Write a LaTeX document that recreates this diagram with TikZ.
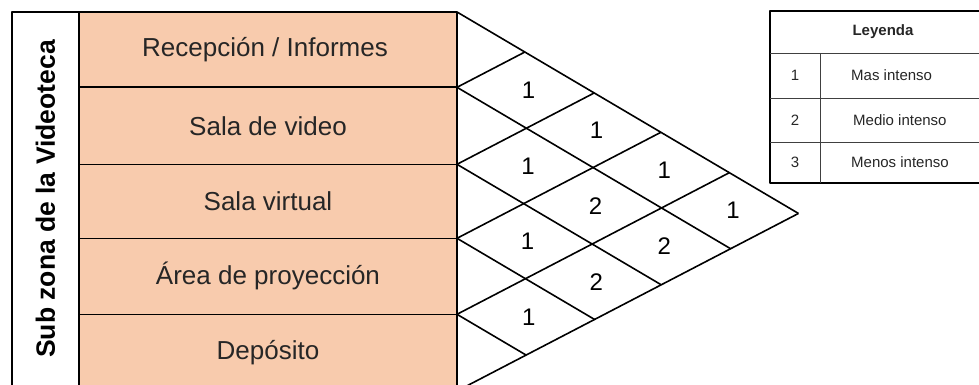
\documentclass[tikz,border=0pt]{standalone}
\usepackage{fontspec}
\setmainfont{Liberation Sans}
\usetikzlibrary{calc}
\definecolor{zonefill}{HTML}{F8CBAD}
\begin{document}
\begin{tikzpicture}[x=1pt,y=-1pt,line join=round,
  gridline/.style={line width=1.6pt,black},
  rowtxt/.style={font=\fontsize{26}{30}\selectfont,text=black!85},
  sidetxt/.style={font=\bfseries\fontsize{26.5}{30}\selectfont,rotate=90},
  cellnum/.style={font=\fontsize{24}{28}\selectfont},
  legtxt/.style={font=\fontsize{15}{17}\selectfont,text=black!85},
  legline/.style={line width=0.9pt,black!75}]
\useasboundingbox (0,0) rectangle (979,385);
\def\Plist{12,87.3,164.3,238.3,314.3,391}
% left block
\fill[zonefill] (79,12) rectangle (457,391);
\draw[gridline] (12,391) -- (12,12) -- (457,12) -- (457,391);
\draw[gridline] (79,12) -- (79,391);
\foreach \k in {1,...,4}{
  \pgfmathsetmacro\yk{{\Plist}[\k]}
  \draw[gridline] (79,\yk) -- (457,\yk);
}
\node[sidetxt] (side) at (45.5,199) {Sub zona de la Videoteca};
\node[rowtxt] (r1) at (265,49.6) {Recepción / Informes};
\node[rowtxt] (r2) at (268,125.8) {Sala de video};
\node[rowtxt] (r3) at (268,201.3) {Sala virtual};
\node[rowtxt] (r4) at (268,276.3) {Área de proyección};
\node[rowtxt] (r5) at (268,352.6) {Depósito};
% triangle vertices
\foreach \a in {0,...,5}{
  \foreach \b in {\a,...,5}{
    \pgfmathsetmacro\pa{{\Plist}[\a]}
    \pgfmathsetmacro\pb{{\Plist}[\b]}
    \coordinate (V\a\b) at ({457+(\pb-\pa)/1.11},{\pa+0.59*(\pb-\pa)/1.11});
  }
}
\foreach \i in {0,...,4}{\draw[gridline] (V\i\i) -- (V\i5);}
\foreach \j in {1,...,5}{\draw[gridline] (V\j\j) -- (V0\j);}
% cell values
\foreach \i/\j/\ii/\jj/\v in {0/1/1/2/1,1/2/2/3/1,2/3/3/4/1,3/4/4/5/1,
  0/2/1/3/1,1/3/2/4/2,2/4/3/5/2,0/3/1/4/1,1/4/2/5/2,0/4/1/5/1}{
  \node[cellnum] (c\i\j) at ($(V\i\jj)!0.5!(V\ii\j)+(3,0)$) {\v};
}
% legend
\draw[line width=1.2pt] (990,11) -- (770,11) -- (770,183) -- (990,183);
\draw[legline] (770,53) -- (990,53);
\draw[legline] (770,98) -- (990,98);
\draw[legline] (770,142) -- (990,142);
\draw[legline] (820,53) -- (820,183);
\node[legtxt,font=\bfseries\fontsize{15}{17}\selectfont] (lh) at (883,32) {Leyenda};
\node[legtxt] (l1n) at (795,75.5) {1};
\node[legtxt] (l2n) at (795,120) {2};
\node[legtxt] (l3n) at (795,162.5) {3};
\node[legtxt,anchor=west,inner sep=0pt] (l1t) at (851,75.5) {Mas intenso};
\node[legtxt,anchor=west,inner sep=0pt] (l2t) at (853,120) {Medio intenso};
\node[legtxt,anchor=west,inner sep=0pt] (l3t) at (851,162.5) {Menos intenso};
\end{tikzpicture}
\end{document}
